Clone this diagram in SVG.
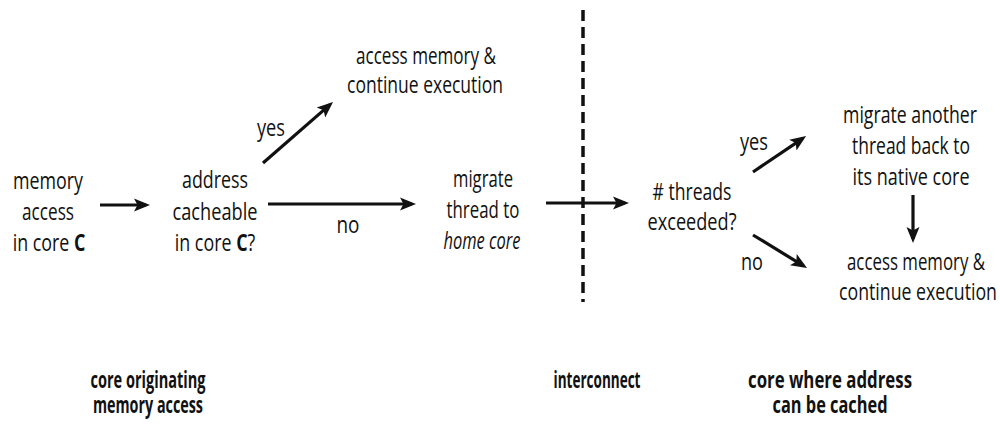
<svg xmlns="http://www.w3.org/2000/svg" width="1000" height="426" viewBox="0 0 1000 426">
  <style>
    .t { font-family: "Open Sans", "Liberation Sans", sans-serif; font-size: 23.5px; font-weight: 500; fill: #111; text-anchor: middle; }
    .b { font-weight: bold; }
    .i { font-style: italic; }
    .c { stroke: #111; stroke-width: 3.2; fill: none; marker-end: url(#ah); }
    .div { stroke: #111; stroke-width: 3.5; stroke-dasharray: 11 6; fill: none; }
  </style>
  <defs>
    <marker id="ah" markerUnits="userSpaceOnUse" markerWidth="16" markerHeight="16" viewBox="0 0 16 16" refX="12" refY="8" orient="auto">
      <path d="M0,1.5 L16,8 L0,14.5 L3.5,8 z" fill="#111"/>
    </marker>
  </defs>
  <rect width="1000" height="426" fill="#fff"/>

  <!-- interconnect boundary -->
  <line class="div" x1="583" y1="10" x2="583" y2="302"/>

  <g id="connectors">
    <line class="c" x1="100" y1="205" x2="146" y2="205"/>
    <line class="c" x1="263" y1="163" x2="330" y2="104.6"/>
    <line class="c" x1="268" y1="204" x2="412" y2="204"/>
    <line class="c" x1="546" y1="203" x2="625" y2="203"/>
    <line class="c" x1="753" y1="172" x2="802.8" y2="138.3"/>
    <line class="c" x1="753" y1="235" x2="803.6" y2="265.9"/>
    <line class="c" x1="913" y1="195" x2="913" y2="239"/>
  </g>

  <g id="memory-access">
    <text class="t" x="48" y="189" textLength="70" lengthAdjust="spacingAndGlyphs">memory</text>
    <text class="t" x="48" y="220" textLength="52" lengthAdjust="spacingAndGlyphs">access</text>
    <text class="t" transform="translate(49,251) scale(0.76,1)">in core <tspan class="b">C</tspan></text>
  </g>

  <g id="cacheable-check">
    <text class="t" x="215" y="188" textLength="66" lengthAdjust="spacingAndGlyphs">address</text>
    <text class="t" x="215" y="220" textLength="85" lengthAdjust="spacingAndGlyphs">cacheable</text>
    <text class="t" transform="translate(215,251) scale(0.76,1)">in core <tspan class="b">C</tspan>?</text>
  </g>

  <g id="local-access">
    <text class="t" x="426" y="64" textLength="140" lengthAdjust="spacingAndGlyphs">access memory &amp;</text>
    <text class="t" x="425" y="93" textLength="156" lengthAdjust="spacingAndGlyphs">continue execution</text>
  </g>

  <g id="migrate-home">
    <text class="t" x="483" y="187" textLength="60" lengthAdjust="spacingAndGlyphs">migrate</text>
    <text class="t" x="483" y="218" textLength="73" lengthAdjust="spacingAndGlyphs">thread to</text>
    <text class="t i" x="482" y="249" textLength="77" lengthAdjust="spacingAndGlyphs">home core</text>
  </g>

  <g id="threads-check">
    <text class="t" x="692" y="200" textLength="79" lengthAdjust="spacingAndGlyphs"># threads</text>
    <text class="t" x="692" y="230" textLength="89" lengthAdjust="spacingAndGlyphs">exceeded?</text>
  </g>

  <g id="evict-thread">
    <text class="t" x="910" y="123" textLength="134" lengthAdjust="spacingAndGlyphs">migrate another</text>
    <text class="t" x="911" y="154" textLength="118" lengthAdjust="spacingAndGlyphs">thread back to</text>
    <text class="t" x="911" y="185" textLength="117" lengthAdjust="spacingAndGlyphs">its native core</text>
  </g>

  <g id="remote-access">
    <text class="t" x="916" y="270" textLength="138" lengthAdjust="spacingAndGlyphs">access memory &amp;</text>
    <text class="t" x="918" y="300" textLength="158" lengthAdjust="spacingAndGlyphs">continue execution</text>
  </g>

  <g id="edge-labels">
    <text class="t" x="271" y="136" textLength="28" lengthAdjust="spacingAndGlyphs">yes</text>
    <text class="t" x="348" y="233" textLength="23" lengthAdjust="spacingAndGlyphs">no</text>
    <text class="t" x="754" y="150" textLength="28" lengthAdjust="spacingAndGlyphs">yes</text>
    <text class="t" x="752" y="270" textLength="22" lengthAdjust="spacingAndGlyphs">no</text>
  </g>

  <g id="region-labels">
    <text class="t b" x="148" y="388" textLength="115" lengthAdjust="spacingAndGlyphs">core originating</text>
    <text class="t b" x="148" y="413" textLength="110" lengthAdjust="spacingAndGlyphs">memory access</text>
    <text class="t b" x="597" y="388" textLength="87" lengthAdjust="spacingAndGlyphs">interconnect</text>
    <text class="t b" x="830" y="388" textLength="164" lengthAdjust="spacingAndGlyphs">core where address</text>
    <text class="t b" x="830" y="413" textLength="115" lengthAdjust="spacingAndGlyphs">can be cached</text>
  </g>
</svg>
